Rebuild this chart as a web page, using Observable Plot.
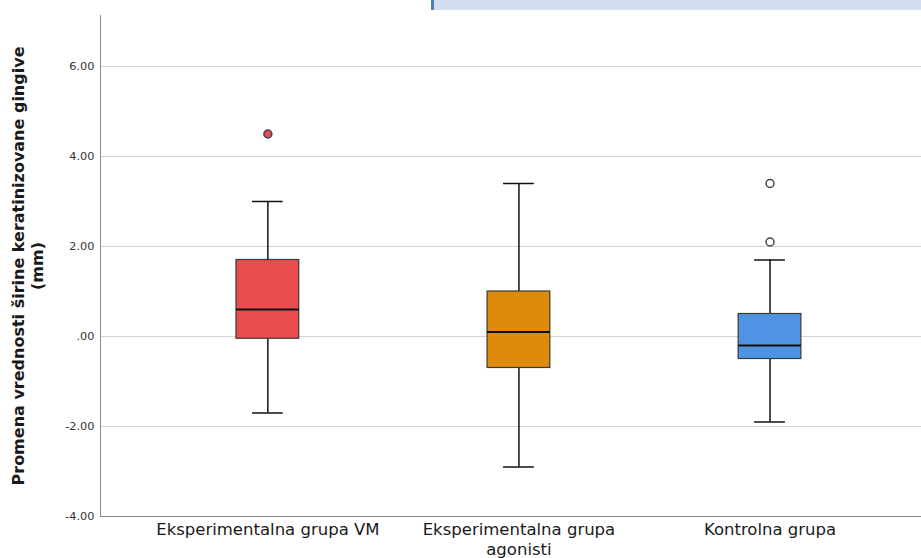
<!DOCTYPE html>
<html>
<head>
<meta charset="utf-8">
<script src="https://cdn.jsdelivr.net/npm/d3@7"></script>
<script src="https://cdn.jsdelivr.net/npm/@observablehq/plot@0.6"></script>
<style>
  html, body { margin: 0; padding: 0; background: #fff; }
  #wrap { position: relative; width: 921px; height: 558px; overflow: hidden; }
  #topbar { position: absolute; left: 431px; top: 0; width: 487px; height: 10px; background: #d3dff0; border-left: 3px solid #4e7fbd; }
</style>
</head>
<body>
<div id="wrap"><div id="topbar"></div><div id="chart"></div></div>
<script>
// ---- data ----
const groups = ["Eksperimentalna grupa VM", "Eksperimentalna grupa agonisti", "Kontrolna grupa"];
const groupLabels = ["Eksperimentalna grupa VM", "Eksperimentalna grupa\nagonisti", "Kontrolna grupa"];
const whiskerLow = [-1.7, -2.9, -1.9];
const q1 = [-0.05, -0.7, -0.5];
const medians = [0.6, 0.1, -0.2];
const q3 = [1.7, 1.0, 0.5];
const whiskerHigh = [3.0, 3.4, 1.7];
const boxColors = ["#ea4b4e", "#e08a0c", "#4f94e2"];
const outlierGroups = ["Eksperimentalna grupa VM", "Kontrolna grupa", "Kontrolna grupa"];
const outlierValues = [4.5, 3.4, 2.1];
const outlierFilled = [true, false, false];
const yTicks = [-4, -2, 0, 2, 4, 6];
const yLabel = "Promena vrednosti širine keratinizovane gingive\n(mm)";

const boxes = groups.map((g, i) => ({group: g, low: whiskerLow[i], q1: q1[i], median: medians[i], q3: q3[i], high: whiskerHigh[i]}));
const outliers = outlierGroups.map((g, i) => ({group: g, value: outlierValues[i], filled: outlierFilled[i]}));
const labelOf = new Map(groups.map((g, i) => [g, groupLabels[i]]));

const chart = Plot.plot({
  width: 921,
  height: 558,
  marginLeft: 100,
  marginRight: 0,
  marginTop: 15,
  marginBottom: 42,
  style: {fontFamily: "DejaVu Sans", background: "white"},
  x: {domain: groups, paddingInner: 0.75, paddingOuter: 0.51, align: 0.531, round: false, label: null},
  y: {domain: [-4, 7.133], label: null},
  color: {domain: groups, range: boxColors},
  marks: [
    Plot.gridY(yTicks, {stroke: "#d4d4d4", strokeOpacity: 1, strokeWidth: 1}),
    Plot.frame({anchor: "left", stroke: "#8a8a8a"}),
    Plot.frame({anchor: "bottom", stroke: "#8a8a8a"}),
    Plot.axisY(yTicks, {tickSize: 0, tickPadding: 6, fontSize: 11.3, fill: "#333", tickFormat: d => d === 0 ? ".00" : d.toFixed(2), label: null}),
    Plot.axisX({tickSize: 0, tickPadding: 5, fontSize: 16.5, fill: "#1a1a1a", lineHeight: 1.17, tickFormat: d => labelOf.get(d), label: null}),
    Plot.text([yLabel], {frameAnchor: "left", dx: -73, rotate: -90, fontSize: 16, fontWeight: "bold", fill: "#1a1a1a", lineHeight: 1.15, lineAnchor: "middle", textAnchor: "middle"}),
    Plot.ruleX(boxes, {x: "group", y1: "low", y2: "q1", stroke: "#111", strokeWidth: 1.5}),
    Plot.ruleX(boxes, {x: "group", y1: "q3", y2: "high", stroke: "#111", strokeWidth: 1.5}),
    Plot.tickY(boxes, {x: "group", y: "low", stroke: "#111", strokeWidth: 1.5, insetLeft: 16, insetRight: 16}),
    Plot.tickY(boxes, {x: "group", y: "high", stroke: "#111", strokeWidth: 1.5, insetLeft: 16, insetRight: 16}),
    Plot.barY(boxes, {x: "group", y1: "q1", y2: "q3", fill: "group", stroke: "#3a3a3a", strokeWidth: 1.2}),
    Plot.tickY(boxes, {x: "group", y: "median", stroke: "#111", strokeWidth: 2.2}),
    Plot.dot(outliers, {x: "group", y: "value", r: 4, fill: d => d.filled ? boxColors[groups.indexOf(d.group)] : "white", stroke: "#444", strokeWidth: 1.5})
  ]
});
document.getElementById("chart").appendChild(chart);
</script>
</body>
</html>
